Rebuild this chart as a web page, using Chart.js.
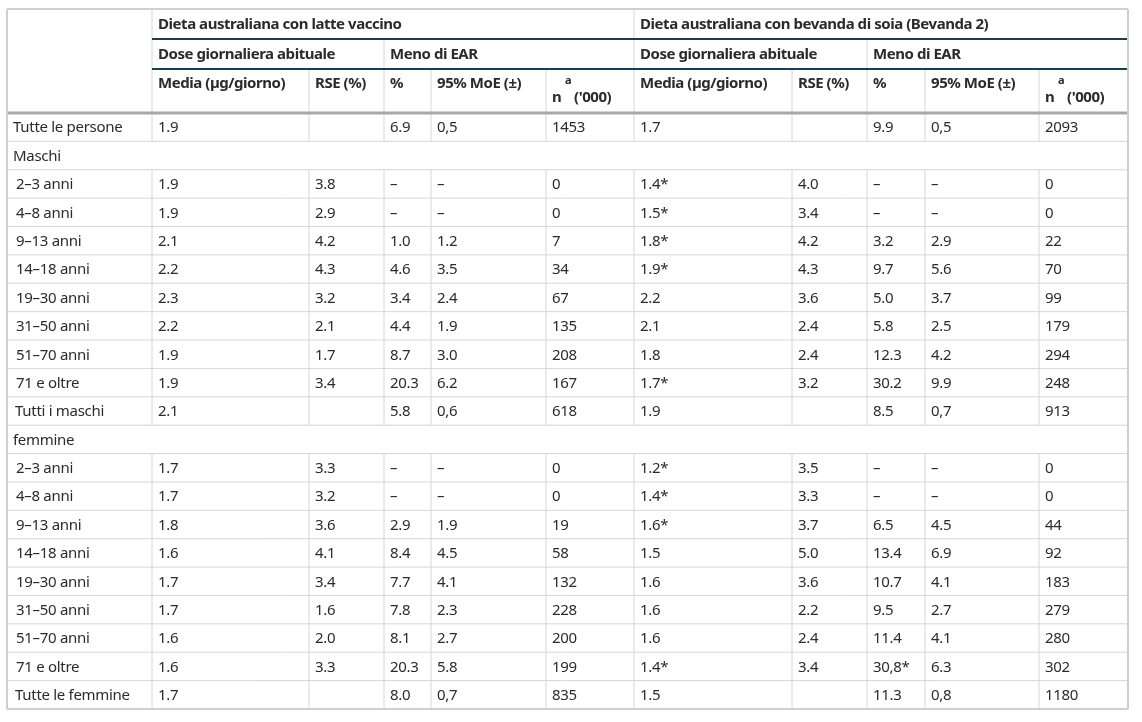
<!DOCTYPE html>
<html>
<head>
<meta charset="utf-8">
<script src="https://cdn.jsdelivr.net/npm/chart.js@4.4.1/dist/chart.umd.min.js"></script>
<style>
  html, body { margin: 0; padding: 0; background: #fff; }
  #wrap { width: 1142px; height: 722px; }
</style>
</head>
<body>
<div id="wrap"><canvas id="tableChart"></canvas></div>
<script>
// righe della tabella
const rowLabels = ['Tutte le persone', 'Maschi', '2–3 anni', '4–8 anni', '9–13 anni', '14–18 anni', '19–30 anni',
  '31–50 anni', '51–70 anni', '71 e oltre', 'Tutti i maschi', 'femmine', '2–3 anni', '4–8 anni', '9–13 anni',
  '14–18 anni', '19–30 anni', '31–50 anni', '51–70 anni', '71 e oltre', 'Tutte le femmine'];
const rowTypes = ['total', 'section', 'age', 'age', 'age', 'age', 'age', 'age', 'age', 'age', 'total',
  'section', 'age', 'age', 'age', 'age', 'age', 'age', 'age', 'age', 'total'];

// intestazioni
const groupHeaders = ['Dieta australiana con latte vaccino', 'Dieta australiana con bevanda di soia (Bevanda 2)'];
const subHeaders = ['Dose giornaliera abituale', 'Meno di EAR'];
const colHeaders = ['Media (µg/giorno)', 'RSE (%)', '%', '95% MoE (±)', 'n'];

// dieta con latte vaccino
const latteMedia = ['1.9', null, '1.9', '1.9', '2.1', '2.2', '2.3', '2.2', '1.9', '1.9', '2.1', null, '1.7', '1.7', '1.8', '1.6', '1.7', '1.7', '1.6', '1.6', '1.7'];
const latteRSE = ['', null, '3.8', '2.9', '4.2', '4.3', '3.2', '2.1', '1.7', '3.4', '', null, '3.3', '3.2', '3.6', '4.1', '3.4', '1.6', '2.0', '3.3', ''];
const lattePct = ['6.9', null, '–', '–', '1.0', '4.6', '3.4', '4.4', '8.7', '20.3', '5.8', null, '–', '–', '2.9', '8.4', '7.7', '7.8', '8.1', '20.3', '8.0'];
const latteMoE = ['0,5', null, '–', '–', '1.2', '3.5', '2.4', '1.9', '3.0', '6.2', '0,6', null, '–', '–', '1.9', '4.5', '4.1', '2.3', '2.7', '5.8', '0,7'];
const latteN = ['1453', null, '0', '0', '7', '34', '67', '135', '208', '167', '618', null, '0', '0', '19', '58', '132', '228', '200', '199', '835'];

// dieta con bevanda di soia
const soiaMedia = ['1.7', null, '1.4*', '1.5*', '1.8*', '1.9*', '2.2', '2.1', '1.8', '1.7*', '1.9', null, '1.2*', '1.4*', '1.6*', '1.5', '1.6', '1.6', '1.6', '1.4*', '1.5'];
const soiaRSE = ['', null, '4.0', '3.4', '4.2', '4.3', '3.6', '2.4', '2.4', '3.2', '', null, '3.5', '3.3', '3.7', '5.0', '3.6', '2.2', '2.4', '3.4', ''];
const soiaPct = ['9.9', null, '–', '–', '3.2', '9.7', '5.0', '5.8', '12.3', '30.2', '8.5', null, '–', '–', '6.5', '13.4', '10.7', '9.5', '11.4', '30,8*', '11.3'];
const soiaMoE = ['0,5', null, '–', '–', '2.9', '5.6', '3.7', '2.5', '4.2', '9.9', '0,7', null, '–', '–', '4.5', '6.9', '4.1', '2.7', '4.1', '6.3', '0,8'];
const soiaN = ['2093', null, '0', '0', '22', '70', '99', '179', '294', '248', '913', null, '0', '0', '44', '92', '183', '279', '280', '302', '1180'];

const valueCols = [latteMedia, latteRSE, lattePct, latteMoE, latteN, soiaMedia, soiaRSE, soiaPct, soiaMoE, soiaN];

// geometria (unità delle scale = pixel della pagina)
const W = 1142, H = 722;
const colEdges = [7, 152, 309, 384, 431, 546, 634, 792, 867, 925, 1039, 1128];
const headEdges = [9, 39, 69, 113];
const bodyBottom = 709;
const rowH = (bodyBottom - headEdges[3]) / rowLabels.length;
const padX = 6;
const FONT = '"Noto Sans", "Open Sans", sans-serif';
const SIZE = 15;
const TEXT = '#2b2b2b';

const rowCenter = i => headEdges[3] + (i + 0.5) * rowH + 1;

// etichette di riga
const labelPoints = rowLabels.map((t, i) => ({
  x: colEdges[0] + padX + (rowTypes[i] === 'age' ? 3 : rowTypes[i] === 'total' && i > 0 ? 2 : 0),
  y: rowCenter(i), text: t
}));

// celle dei valori
const valueDatasets = valueCols.map((col, c) => ({
  label: 'col' + c,
  data: col.map((v, i) => ({ x: colEdges[c + 1] + padX, y: rowCenter(i), text: v }))
    .filter(p => p.text !== null && p.text !== ''),
  bold: false
}));

// celle di intestazione
const headPoints = [];
groupHeaders.forEach((t, g) => {
  headPoints.push({ x: colEdges[1 + g * 5] + padX, y: (headEdges[0] + headEdges[1]) / 2 + 0.5, text: t });
  headPoints.push({ x: colEdges[1 + g * 5] + padX, y: (headEdges[1] + headEdges[2]) / 2 + 0.5, text: subHeaders[0] });
  headPoints.push({ x: colEdges[3 + g * 5] + padX, y: (headEdges[1] + headEdges[2]) / 2 + 0.5, text: subHeaders[1] });
  colHeaders.forEach((h, k) => {
    if (k === 4) {
      const x0 = colEdges[5 + g * 5] + padX;
      headPoints.push({ x: x0, y: headEdges[2] + 29, text: h });
      headPoints.push({ x: x0 + 13, y: headEdges[2] + 12, text: 'a', small: true });
      headPoints.push({ x: x0 + 22, y: headEdges[2] + 29, text: "('000)" });
    } else {
      headPoints.push({ x: colEdges[1 + k + g * 5] + padX, y: headEdges[2] + 15, text: h });
    }
  });
});

const tablePlugin = {
  id: 'tablePlugin',
  beforeDatasetsDraw(chart) {
    const ctx = chart.ctx;
    const xs = chart.scales.x, ys = chart.scales.y;
    const px = v => xs.getPixelForValue(v), py = v => ys.getPixelForValue(v);
    const line = (x1, y1, x2, y2, color, w) => {
      ctx.save();
      ctx.strokeStyle = color;
      ctx.lineWidth = w;
      ctx.beginPath();
      ctx.moveTo(px(x1), py(y1));
      ctx.lineTo(px(x2), py(y2));
      ctx.stroke();
      ctx.restore();
    };
    const L = colEdges[0], R = colEdges[colEdges.length - 1];
    const grid = '#d6d6d6';
    // righe del corpo
    for (let i = 1; i < rowLabels.length; i++) {
      line(L, headEdges[3] + i * rowH, R, headEdges[3] + i * rowH, grid, 1);
    }
    // verticali del corpo
    rowLabels.forEach((t, i) => {
      if (rowTypes[i] === 'section') return;
      const y1 = headEdges[3] + i * rowH, y2 = y1 + rowH;
      for (let c = 1; c < colEdges.length - 1; c++) line(colEdges[c], y1, colEdges[c], y2, grid, 1);
    });
    // verticali intestazione
    line(colEdges[1], headEdges[0], colEdges[1], headEdges[3], grid, 1);
    line(colEdges[6], headEdges[0], colEdges[6], headEdges[3], grid, 1);
    [3, 8].forEach(c => line(colEdges[c], headEdges[1], colEdges[c], headEdges[3], grid, 1));
    [2, 4, 5, 7, 9, 10].forEach(c => line(colEdges[c], headEdges[2], colEdges[c], headEdges[3], grid, 1));
    // linee scure sotto le intestazioni
    line(colEdges[1], headEdges[1], R, headEdges[1], '#173f4d', 2);
    line(colEdges[1], headEdges[2], R, headEdges[2], '#173f4d', 2);
    // separatore intestazione / corpo
    line(L, headEdges[3], R, headEdges[3], '#a8a8a8', 3);
    // bordo esterno
    line(L, headEdges[0], R, headEdges[0], '#d0d0d0', 2);
    line(L, bodyBottom, R, bodyBottom, '#cfcfcf', 2);
    line(L, headEdges[0], L, bodyBottom, '#cfcfcf', 2);
    line(R, headEdges[0], R, bodyBottom, '#cfcfcf', 2);
  },
  afterDatasetsDraw(chart) {
    const ctx = chart.ctx;
    chart.data.datasets.forEach((ds, d) => {
      const meta = chart.getDatasetMeta(d);
      meta.data.forEach((pt, i) => {
        const raw = ds.data[i];
        ctx.save();
        ctx.fillStyle = TEXT;
        ctx.textAlign = 'left';
        ctx.textBaseline = 'middle';
        ctx.font = (ds.bold ? 'bold ' : '') + (raw.small ? 11 : SIZE) + 'px ' + FONT;
        if ('letterSpacing' in ctx) ctx.letterSpacing = ds.bold ? '-0.45px' : '-0.3px';
        ctx.fillText(raw.text, pt.x, pt.y);
        ctx.restore();
      });
    });
  }
};

new Chart(document.getElementById('tableChart').getContext('2d'), {
  type: 'scatter',
  data: {
    datasets: [
      { label: 'intestazioni', data: headPoints, bold: true },
      { label: 'righe', data: labelPoints, bold: false },
      ...valueDatasets
    ]
  },
  options: {
    responsive: true,
    maintainAspectRatio: false,
    animation: false,
    events: [],
    layout: { padding: 0 },
    elements: { point: { radius: 0, hoverRadius: 0 } },
    scales: {
      x: { type: 'linear', min: 0, max: W, display: false },
      y: { type: 'linear', min: 0, max: H, reverse: true, display: false }
    },
    plugins: { legend: { display: false }, tooltip: { enabled: false } }
  },
  plugins: [tablePlugin]
});
</script>
</body>
</html>
